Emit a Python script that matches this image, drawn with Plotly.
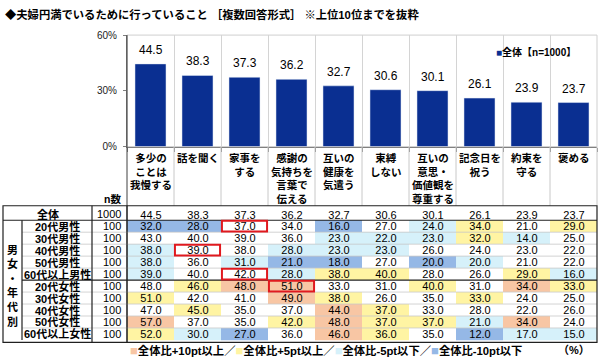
import plotly.graph_objects as go

# ---------------- data ----------------
title = "◆夫婦円満でいるために行っていること ［複数回答形式］ ※上位10位までを抜粋"
categories = ["多少のことは我慢する", "話を聞く", "家事をする", "感謝の気持ちを言葉で伝える",
              "互いの健康を気遣う", "束縛しない", "互いの意思・価値観を尊重する",
              "記念日を祝う", "約束を守る", "褒める"]
header_labels = ["多少の<br>ことは<br>我慢する", "話を聞く", "家事を<br>する",
                 "感謝の<br>気持ちを<br>言葉で<br>伝える", "互いの<br>健康を<br>気遣う",
                 "束縛<br>しない", "互いの<br>意思・<br>価値観を<br>尊重する",
                 "記念日を<br>祝う", "約束を<br>守る", "褒める"]
overall = [44.5, 38.3, 37.3, 36.2, 32.7, 30.6, 30.1, 26.1, 23.9, 23.7]
overall_label = "全体"
overall_n = 1000
legend_label = "全体【n=1000】"
segments = ["20代男性", "30代男性", "40代男性", "50代男性", "60代以上男性",
            "20代女性", "30代女性", "40代女性", "50代女性", "60代以上女性"]
segment_n = [100, 100, 100, 100, 100, 100, 100, 100, 100, 100]
segment_values = [
    [32.0, 28.0, 37.0, 34.0, 16.0, 27.0, 24.0, 34.0, 21.0, 29.0],
    [43.0, 40.0, 39.0, 36.0, 23.0, 22.0, 23.0, 32.0, 14.0, 25.0],
    [38.0, 39.0, 38.0, 28.0, 23.0, 23.0, 26.0, 24.0, 23.0, 22.0],
    [38.0, 36.0, 31.0, 21.0, 18.0, 27.0, 20.0, 20.0, 21.0, 22.0],
    [39.0, 40.0, 42.0, 28.0, 38.0, 40.0, 28.0, 26.0, 29.0, 16.0],
    [48.0, 46.0, 48.0, 51.0, 33.0, 31.0, 40.0, 31.0, 34.0, 33.0],
    [51.0, 42.0, 41.0, 49.0, 38.0, 26.0, 35.0, 33.0, 24.0, 25.0],
    [47.0, 45.0, 35.0, 37.0, 44.0, 37.0, 33.0, 28.0, 22.0, 26.0],
    [57.0, 37.0, 35.0, 42.0, 48.0, 37.0, 37.0, 21.0, 34.0, 24.0],
    [52.0, 30.0, 27.0, 36.0, 46.0, 36.0, 35.0, 12.0, 17.0, 15.0],
]
group_label = "男女・年代別"
y_ticks = [0, 30, 60]
y_tick_labels = ["0%", "30%", "60%"]
legend_items = ["全体比+10pt以上", "全体比+5pt以上", "全体比-5pt以下", "全体比-10pt以下"]
unit_label = "（%）"

# ---------------- styles ----------------
W, H = 600, 362
BAR = "#0A2F91"
C_BLUE, C_CYAN, C_WHITE, C_YEL, C_ORG = "#95B8E6", "#D6F1FA", "#FFFFFF", "#FFF4A3", "#F8C6A4"
FONT = "Arial, Liberation Sans, Noto Sans CJK JP"
def px(x): return x / W
def py(y): return 1 - y / H

CH_L, CH_R, CH_T, CH_B = 127, 597, 30, 145
TB_T, TB_B = 206, 347
TB_L, COL_G, COL_N = 3, 22, 92

def code(v, base):
    d = round(v - base, 1)
    if d >= 10: return 2
    if d >= 5: return 1
    if d <= -10: return -2
    if d <= -5: return -1
    return 0

rows = [overall_label] + segments
z = [[0] * len(categories)] + [[code(v, overall[j]) for j, v in enumerate(r)] for r in segment_values]
txt = [[f"{v:.1f}" for v in overall]] + [[f"{v:.1f}" for v in r] for r in segment_values]

fig = go.Figure()
fig.add_trace(go.Bar(x=categories, y=overall, marker_color=BAR, width=0.66,
                     showlegend=False, hoverinfo="skip"))
fig.add_trace(go.Heatmap(
    x=categories, y=rows, z=z, xaxis="x2", yaxis="y2", zmin=-2, zmax=2,
    colorscale=[[0, C_BLUE], [0.2, C_BLUE], [0.2, C_CYAN], [0.4, C_CYAN], [0.4, C_WHITE],
                [0.6, C_WHITE], [0.6, C_YEL], [0.8, C_YEL], [0.8, C_ORG], [1, C_ORG]],
    showscale=False, text=txt, texttemplate="%{text}",
    textfont=dict(size=11, color="black", family=FONT), hoverinfo="skip"))

ann = []
shapes = []
def A(**kw):
    base = dict(showarrow=False, xanchor="center", yanchor="middle")
    base.update(kw)
    ann.append(base)

A(text=title, x=px(3), y=py(9), xref="paper", yref="paper", xanchor="left",
  font=dict(size=11.3, weight="bold", family=FONT, color="black"))
for c, v in zip(categories, overall):
    A(text=f"{v:.1f}", x=c, y=v, xref="x", yref="y", yanchor="bottom", yshift=5,
      font=dict(size=12, family=FONT, color="black"))
A(text=f"<span style='color:{BAR}'>■</span>{legend_label}", x=px(494), y=py(47),
  xref="paper", yref="paper", xanchor="left", font=dict(size=10, weight="bold", family=FONT, color="black"))
for c, lab in zip(categories, header_labels):
    A(text=lab, x=c, y=py(149), xref="x", yref="paper", yanchor="top", align="center",
      font=dict(size=10.5, weight="bold", family=FONT, color="black"))
A(text="n数", x=px(112), y=py(199), xref="paper", yref="paper",
  font=dict(size=10.5, weight="bold", family=FONT, color="black"))
for i, r in enumerate(rows):
    xc = (TB_L + COL_N) / 2 if i == 0 else (COL_G + COL_N) / 2
    A(text=r, x=px(xc), y=r, xref="paper", yref="y2",
      font=dict(size=11, weight="bold", family=FONT, color="black"))
    n = overall_n if i == 0 else segment_n[i - 1]
    A(text=str(n), x=px(123), y=r, xref="paper", yref="y2", xanchor="right",
      font=dict(size=11, family=FONT, color="black"))
A(text="<br>".join(group_label), x=px((TB_L + COL_G) / 2), y=py(289), xref="paper", yref="paper",
  font=dict(size=11, weight="bold", family=FONT, color="black"))
leg_cols = [C_ORG, C_YEL, C_CYAN, C_BLUE]
parts = []
for k, (lab, col) in enumerate(zip(legend_items, leg_cols)):
    parts.append(f"<span style='color:{col};font-size:13px'>■</span>{lab}" + ("／" if k < 3 else ""))
A(text="".join(parts), x=px(128), y=py(355), xref="paper", yref="paper", xanchor="left",
  font=dict(size=11.3, weight="bold", family=FONT, color="black"))
A(text=unit_label, x=px(592), y=py(355), xref="paper", yref="paper", xanchor="right",
  font=dict(size=11, weight="bold", family=FONT, color="black"))

shapes.append(dict(type="rect", xref="paper", yref="paper", x0=px(CH_L), x1=px(CH_R),
                   y0=py(CH_B), y1=py(CH_T), line=dict(color="#cfcfcf", width=1), layer="below"))
for j in range(len(categories) - 1):
    shapes.append(dict(type="line", xref="x", yref="paper", x0=j + 0.5, x1=j + 0.5,
                       y0=py(TB_T), y1=py(CH_B), line=dict(color="#c8c8c8", width=1)))
shapes.append(dict(type="line", xref="paper", yref="paper", x0=px(CH_R), x1=px(CH_R),
                   y0=py(TB_T), y1=py(CH_B), line=dict(color="#c8c8c8", width=1)))
shapes.append(dict(type="line", xref="paper", yref="paper", x0=px(CH_L), x1=px(CH_L),
                   y0=py(TB_B), y1=py(CH_T), line=dict(color="#404040", width=1)))
for i in range(len(rows) - 1):
    yb = i + 0.5
    dark = (i == 0) or (rows[i] == segments[4])
    x0 = TB_L if i == 0 else COL_G
    shapes.append(dict(type="line", xref="paper", yref="y2", x0=px(x0), x1=px(CH_R),
                       y0=yb, y1=yb, line=dict(color="#202020" if dark else "#c8c8c8",
                                               width=1.2 if dark else 0.8)))
shapes.append(dict(type="rect", xref="paper", yref="paper", x0=px(TB_L), x1=px(CH_R),
                   y0=py(TB_B), y1=py(TB_T), line=dict(color="#202020", width=1.2)))
shapes.append(dict(type="line", xref="paper", yref="y2", x0=px(COL_G), x1=px(COL_G),
                   y0=0.5, y1=len(rows) - 0.5, line=dict(color="#202020", width=1.2)))
for xx in (COL_N, CH_L):
    shapes.append(dict(type="line", xref="paper", yref="paper", x0=px(xx), x1=px(xx),
                       y0=py(TB_B), y1=py(TB_T), line=dict(color="#202020", width=1.2)))
top_overall = max(range(len(overall)), key=lambda j: overall[j])
for i, r in enumerate(segment_values):
    jm = max(range(len(r)), key=lambda j: r[j])
    if jm != top_overall:
        shapes.append(dict(type="rect", xref="x2", yref="y2", x0=jm - 0.48, x1=jm + 0.48,
                           y0=i + 1 - 0.45, y1=i + 1 + 0.45, line=dict(color="#E0191E", width=2)))

fig.update_layout(
    width=W, height=H, margin=dict(l=0, r=0, t=0, b=0), autosize=False,
    paper_bgcolor="white", plot_bgcolor="white", showlegend=False,
    font=dict(family=FONT, color="black"),
    xaxis=dict(domain=[px(CH_L), px(CH_R)], showticklabels=False, tickson="boundaries",
               ticks="outside", ticklen=4, tickcolor="#808080", showgrid=True,
               gridcolor="#d4d4d4", showline=True, linecolor="#808080", fixedrange=True),
    yaxis=dict(domain=[py(CH_B), py(CH_T)], range=[0, 60], tickvals=y_ticks, ticktext=y_tick_labels,
               showgrid=False, showline=True, linecolor="#808080", ticks="outside", ticklen=3,
               tickcolor="#808080", tickfont=dict(size=10, family=FONT, color="#222"),
               ticklabelstandoff=4, zeroline=False),
    xaxis2=dict(domain=[px(CH_L), px(CH_R)], anchor="y2", showticklabels=False, showgrid=False,
                range=[-0.5, len(categories) - 0.5], zeroline=False, ticks=""),
    yaxis2=dict(domain=[py(TB_B), py(TB_T)], anchor="x2", showticklabels=False, showgrid=False,
                autorange="reversed", zeroline=False, ticks=""),
    annotations=ann, shapes=shapes,
)
fig.write_html("out.html", config={"displayModeBar": False},
               post_script="document.body.style.margin='0px';")
